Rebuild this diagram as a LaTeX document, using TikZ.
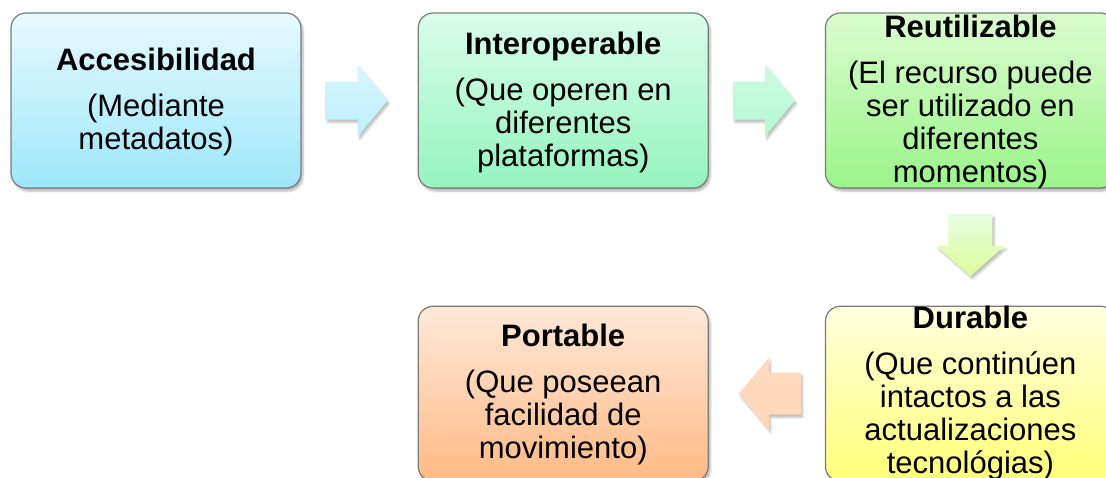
\documentclass[tikz,border=0pt]{standalone}
\usepackage{fontspec}
\setmainfont{Liberation Sans}
\usepackage{tikz}
\usetikzlibrary{positioning, calc, shadows.blur}

% colores de las cajas
\definecolor{accTop}{HTML}{E6FAFF}
\definecolor{accBot}{HTML}{9EE6FA}
\definecolor{intTop}{HTML}{DAFDEB}
\definecolor{intBot}{HTML}{94F4BF}
\definecolor{reuTop}{HTML}{DAFCCE}
\definecolor{reuBot}{HTML}{9BF48A}
\definecolor{durTop}{HTML}{FFFFDE}
\definecolor{durBot}{HTML}{FFFF78}
\definecolor{porTop}{HTML}{FFE8D8}
\definecolor{porBot}{HTML}{FFBA86}
\definecolor{boxLine}{HTML}{7A7A7A}

\tikzset{
  stagebox/.style={rectangle, rounded corners=15pt, draw=boxLine, line width=1.2pt,
    minimum width=290pt, minimum height=175pt, inner sep=0pt,
    blur shadow={shadow xshift=2pt, shadow yshift=-3pt, shadow blur steps=6, shadow opacity=30}},
  stagetext/.style={inner sep=0pt, align=center, font=\fontsize{31}{33}\selectfont},
  flowarr/.style={blur shadow={shadow xshift=2pt, shadow yshift=-3pt, shadow blur steps=5, shadow opacity=25}}
}

\begin{document}
\begin{tikzpicture}[x=1pt, y=-1pt]
  \clip (0,0) rectangle (1106,477);
  \useasboundingbox (0,0) rectangle (1106,477);

  % cajas de la fila superior
  \node[stagebox, top color=accTop, bottom color=accBot] (acc) at (156,100.5) {};
  \node[stagebox, top color=intTop, bottom color=intBot, right=116pt of acc] (inter) {};
  \node[stagebox, top color=reuTop, bottom color=reuBot, right=116pt of inter] (reu) {};

  % cajas de la fila inferior
  \node[stagebox, top color=durTop, bottom color=durBot, below=117pt of reu] (dur) {};
  \node[stagebox, top color=porTop, bottom color=porBot, left=116pt of dur] (port) {};

  % textos
  \node[stagetext] (accText) at ($(acc)+(0,1)$)
    {\textbf{Accesibilidad}\\[13pt](Mediante\\metadatos)};
  \node[stagetext] (interText) at ($(inter)+(0,2)$)
    {\textbf{Interoperable}\\[13pt](Que operen en\\diferentes\\plataformas)};
  \node[stagetext] (reuText) at ($(reu)+(0,1)$)
    {\textbf{Reutilizable}\\[13pt](El recurso puede\\ser utilizado en\\diferentes\\momentos)};
  \node[stagetext] (durText) at ($(dur)+(0,-1)$)
    {\textbf{Durable}\\[13pt](Que continúen\\intactos a las\\actualizaciones\\tecnológias)};
  \node[stagetext] (portText) at ($(port)+(0,1)$)
    {\textbf{Portable}\\[13pt](Que poseean\\facilidad de\\movimiento)};

  % flechas entre las cajas
  \path[flowarr, top color=accTop!80!accBot, bottom color=accBot!70!white]
    ($(acc.east)!0.5!(inter.west)+(-3,0)$) ++(-31,-19) -- ++(32,0) -- ++(0,-17)
    -- ++(30,36) -- ++(-30,36) -- ++(0,-17) -- ++(-32,0) -- cycle;
  \path[flowarr, top color=intTop!80!intBot, bottom color=intBot!70!white]
    ($(inter.east)!0.5!(reu.west)+(-3,0)$) ++(-31,-19) -- ++(32,0) -- ++(0,-17)
    -- ++(30,36) -- ++(-30,36) -- ++(0,-17) -- ++(-32,0) -- cycle;
  \path[flowarr, top color=reuTop!60!white, bottom color=durBot!55!reuBot!80!white]
    ($(reu.south)!0.5!(dur.north)+(0,-2)$) ++(-22,-31) -- ++(0,32) -- ++(-12,0)
    -- ++(34,30) -- ++(34,-30) -- ++(-12,0) -- ++(0,-32) -- cycle;
  \path[flowarr, top color=porTop!70!porBot, bottom color=porBot!60!white]
    ($(dur.west)!0.5!(port.east)+(3,0)$) ++(31,-21) -- ++(-32,0) -- ++(0,-15)
    -- ++(-30,36) -- ++(30,36) -- ++(0,-15) -- ++(32,0) -- cycle;
\end{tikzpicture}
\end{document}
